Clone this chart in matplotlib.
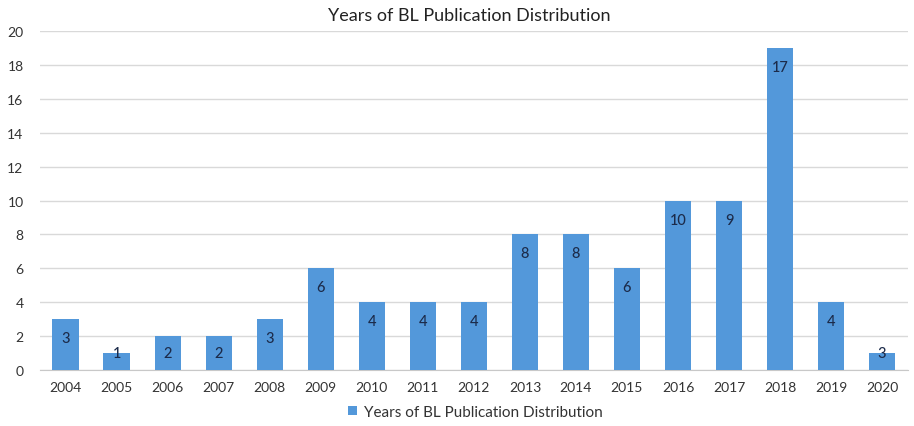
import matplotlib
matplotlib.use("Agg")
import matplotlib.pyplot as plt
from matplotlib.patches import Patch

years = ["2004", "2005", "2006", "2007", "2008", "2009", "2010", "2011", "2012",
         "2013", "2014", "2015", "2016", "2017", "2018", "2019", "2020"]
bar_heights = [3, 1, 2, 2, 3, 6, 4, 4, 4, 8, 8, 6, 10, 10, 19, 4, 1]
bar_labels = ["3", "1", "2", "2", "3", "6", "4", "4", "4", "8", "8", "6", "10", "9", "17", "4", "3"]
yticks = [0, 2, 4, 6, 8, 10, 12, 14, 16, 18, 20]
title = "Years of BL Publication Distribution"

plt.rcParams['font.family'] = ['Lato', 'DejaVu Sans']

fig = plt.figure(figsize=(9.14, 4.27), dpi=100)
ax = fig.add_axes([0.044, 0.131, 0.949, 0.794])

x = list(range(len(years)))
bar_color = "#5398DA"
ax.bar(x, bar_heights, width=0.52, color=bar_color, zorder=3)

for xi, h, lab in zip(x, bar_heights, bar_labels):
    ax.text(xi, max(h - 1.12, 1.0), lab, ha="center", va="center",
            fontsize=10.5, color="#1C2B4A", fontweight="medium", zorder=4)

ax.set_xlim(-0.5, len(years) - 0.5)
ax.set_ylim(0, 20)
ax.set_yticks(yticks)
ax.set_yticklabels([str(v) for v in yticks], fontsize=10, color="#333333")
ax.set_xticks(x)
ax.set_xticklabels(years, fontsize=10, color="#333333")
ax.tick_params(axis="both", length=0)
ax.tick_params(axis="y", pad=12)
ax.tick_params(axis="x", pad=8)

ax.grid(axis="y", color="#D9D9D9", linewidth=1, zorder=0)
for s in ["top", "right", "left"]:
    ax.spines[s].set_visible(False)
ax.spines["bottom"].set_color("#C8C8C8")

fig.text(0.513, 0.963, title, ha="center", va="center", fontsize=13, color="#222222")

handles = [Patch(facecolor=bar_color, label=title)]
fig.legend(handles=handles, loc="center", bbox_to_anchor=(0.52, 0.033), frameon=False,
           fontsize=11, handlelength=0.6, handleheight=0.6, handletextpad=0.4,
           labelcolor="#333333")

fig.savefig("out.png", dpi=100, facecolor="white")
